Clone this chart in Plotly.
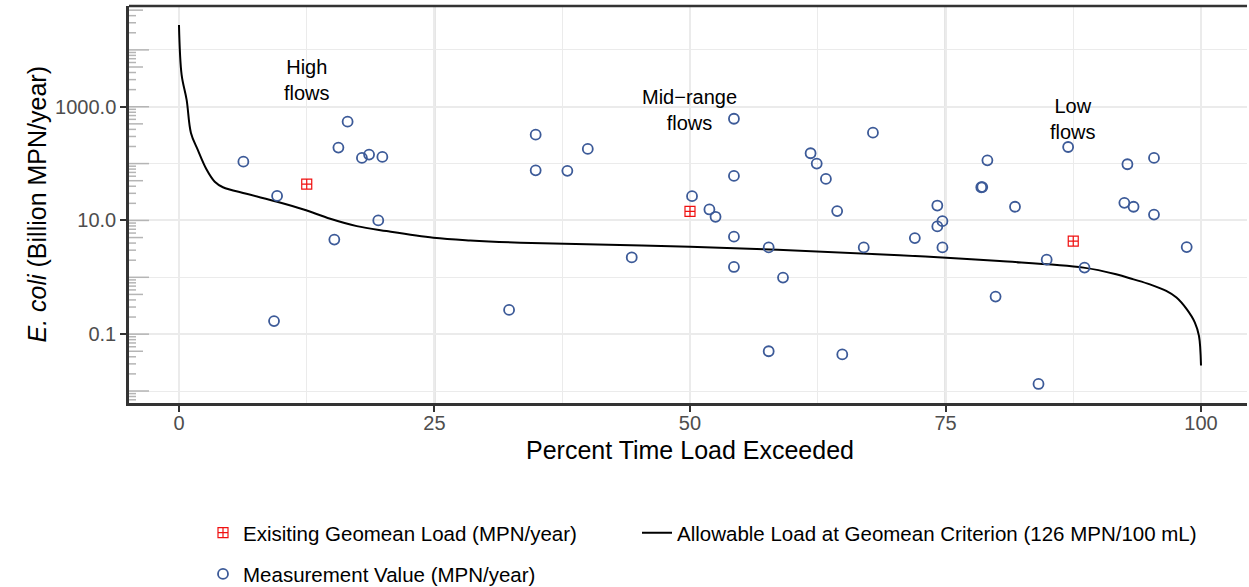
import plotly.graph_objects as go
import numpy as np

# ---- data ----
curve_x = [0, 0.26, 0.75, 1.17, 1.83, 2.7, 3.5, 4.3, 6.6, 9.6, 12.2, 14.8, 17.4, 20.3,
           24.9, 28.5, 33.4, 50, 70.5, 80.3, 88.5, 91.7, 93.4, 95.0, 96.6, 97.6, 98.6,
           99.4, 99.8, 100]
curve_y = [27500, 3630, 1320, 347, 176, 78.5, 47.9, 38.4, 29.4, 21.3, 15.6, 10.7, 7.94, 6.5,
           4.97, 4.45, 4.06, 3.46, 2.45, 1.93, 1.48, 1.13, 0.92, 0.75, 0.575, 0.44, 0.275,
           0.16, 0.093, 0.028]

geo_x = [12.5, 50.0, 87.5]
geo_y = [43.4, 14.4, 4.33]

meas_x = [6.3, 16.5, 15.6, 17.9, 18.6, 19.9, 9.6, 19.5, 15.2, 9.3, 32.3,
          34.9, 34.9, 38.0, 40.0, 44.3, 54.3, 54.3, 50.2, 51.9, 52.5, 54.3, 54.3,
          57.7, 59.1, 57.7, 64.9, 61.8, 62.4, 63.3, 64.4, 67.9, 67.0,
          72.0, 74.2, 74.2, 74.7, 74.7, 79.1, 78.5, 78.6, 81.8, 79.9, 84.9, 88.6,
          84.1, 87.0, 92.8, 95.4, 92.5, 93.4, 95.4, 98.6]
meas_y = [108, 546, 191, 126, 144, 131, 27, 10, 4.6, 0.17, 0.267,
          323, 76, 74.5, 181, 2.24, 615, 60.8, 26.7, 15.6, 11.6, 5.18, 1.52,
          3.36, 0.99, 0.05, 0.044, 152, 100, 53.8, 14.6, 350, 3.36,
          4.9, 18.3, 7.85, 9.7, 3.36, 114, 38.4, 38.6, 17.4, 0.458, 2.04, 1.48,
          0.0133, 196, 97.3, 126, 20.4, 17.4, 12.7, 3.4]

x_ticks = [0, 25, 50, 75, 100]
x_minor = [12.5, 37.5, 62.5, 87.5]
y_ticks = [0.1, 10, 1000]
y_ticktext = ["0.1", "10.0", "1000.0"]
y_minor = [0.01, 1, 100, 10000]

labels = [("High<br>flows", 12.5, 3000), ("Mid\u2212range<br>flows", 50, 890), ("Low<br>flows", 87.5, 620)]

FONT = "Liberation Sans, Arial, sans-serif"
L_MARGIN, R_MARGIN, T_MARGIN, B_MARGIN = 129, 2, 6, 184
W, H = 1249, 587
plot_w = W - L_MARGIN - R_MARGIN
plot_h = H - T_MARGIN - B_MARGIN

fig = go.Figure()
fig.add_trace(go.Scatter(
    x=geo_x, y=geo_y, mode="markers", name="Exisiting Geomean Load (MPN/year)",
    marker=dict(symbol="square-cross-open", size=10, color="#f01010", line=dict(width=1.2, color="#f01010")),
    legend="legend", showlegend=True))
fig.add_trace(go.Scatter(
    x=curve_x, y=curve_y, mode="lines", name="Allowable Load at Geomean Criterion (126 MPN/100 mL)",
    line=dict(color="black", width=2, shape="spline", smoothing=1.0), legend="legend2", showlegend=True))
fig.add_trace(go.Scatter(
    x=meas_x, y=meas_y, mode="markers", name="Measurement Value (MPN/year)",
    marker=dict(symbol="circle-open", size=10, color="#3c5a98", line=dict(width=1.8, color="#3c5a98")),
    legend="legend3", showlegend=True))

shapes = []
for xv in [25, 75, 100]:
    shapes.append(dict(type="line", xref="x", yref="paper", x0=xv, x1=xv, y0=0, y1=1,
                       line=dict(color="#cccccc", width=2), layer="below"))
for k in range(-3, 6):
    for m in range(1, 10):
        v = m * 10.0 ** k
        lv = np.log10(v)
        if lv < -2.211 or lv > 4.772:
            continue
        L = 20 if m == 1 else (14 if m == 5 else 7)
        shapes.append(dict(type="line", xref="paper", yref="y", x0=0, x1=L / plot_w, y0=v, y1=v,
                           line=dict(color="#b5b5b5", width=1.5), layer="above"))
shapes.append(dict(type="line", xref="paper", yref="paper", x0=0, x1=1, y0=1, y1=1,
                   line=dict(color="#333333", width=2.5)))

annotations = []
for t, xv, yv in labels:
    annotations.append(dict(text=t, x=xv, y=np.log10(yv), xref="x", yref="y", showarrow=False,
                            font=dict(size=20, color="black", family=FONT), align="center"))
annotations.append(dict(text="Percent Time Load Exceeded", x=50, xref="x", xanchor="center",
                        y=(403 - 450) / plot_h, yref="paper", yanchor="middle", showarrow=False,
                        font=dict(size=25, color="black", family=FONT)))
annotations.append(dict(text="<i>E. coli</i> (Billion MPN/year)", x=(36 - L_MARGIN) / plot_w, xref="paper",
                        xanchor="center", y=0.5, yref="paper", yanchor="middle", textangle=-90,
                        showarrow=False, font=dict(size=25, color="black", family=FONT)))

leg_font = dict(size=20.5, color="black", family=FONT)
fig.update_layout(
    width=W, height=H, showlegend=True,
    margin=dict(l=L_MARGIN, r=R_MARGIN, t=T_MARGIN, b=B_MARGIN, autoexpand=False),
    paper_bgcolor="white", plot_bgcolor="white",
    font=dict(family=FONT, color="black"),
    shapes=shapes, annotations=annotations,
    legend=dict(orientation="h", x=(203 - L_MARGIN) / plot_w, xanchor="left", y=-0.327, yanchor="middle",
                font=leg_font, bgcolor="rgba(0,0,0,0)"),
    legend2=dict(orientation="h", x=(637 - L_MARGIN) / plot_w, xanchor="left", y=-0.327, yanchor="middle",
                 font=leg_font, bgcolor="rgba(0,0,0,0)"),
    legend3=dict(orientation="h", x=(203 - L_MARGIN) / plot_w, xanchor="left", y=-0.431, yanchor="middle",
                 font=leg_font, bgcolor="rgba(0,0,0,0)"),
)
fig.update_xaxes(
    range=[-4.89, 104.5], tickvals=x_ticks, ticktext=[str(v) for v in x_ticks],
    showgrid=True, gridcolor="#ebebeb", gridwidth=1.5,
    minor=dict(tickvals=x_minor, showgrid=True, gridcolor="#ebebeb", gridwidth=1),
    showline=True, linecolor="#333333", linewidth=2.5, mirror=False,
    ticks="outside", ticklen=6, tickwidth=2, tickcolor="#333333",
    tickfont=dict(size=20, color="#4d4d4d", family=FONT), ticklabelstandoff=-6,
    automargin=False, zeroline=False)
fig.update_yaxes(
    type="log", range=[-2.211, 4.772], tickvals=y_ticks, ticktext=y_ticktext,
    showgrid=True, gridcolor="#ebebeb", gridwidth=1.5,
    minor=dict(tickvals=y_minor, showgrid=True, gridcolor="#ebebeb", gridwidth=1),
    showline=True, linecolor="#333333", linewidth=2.5,
    ticks="outside", ticklen=6, tickwidth=2, tickcolor="#333333",
    tickfont=dict(size=20, color="#4d4d4d", family=FONT),
    automargin=False, zeroline=False)

fig.write_html("out.html", config={"displayModeBar": False},
               post_script="document.body.style.margin='0px';document.body.style.overflow='hidden';")
